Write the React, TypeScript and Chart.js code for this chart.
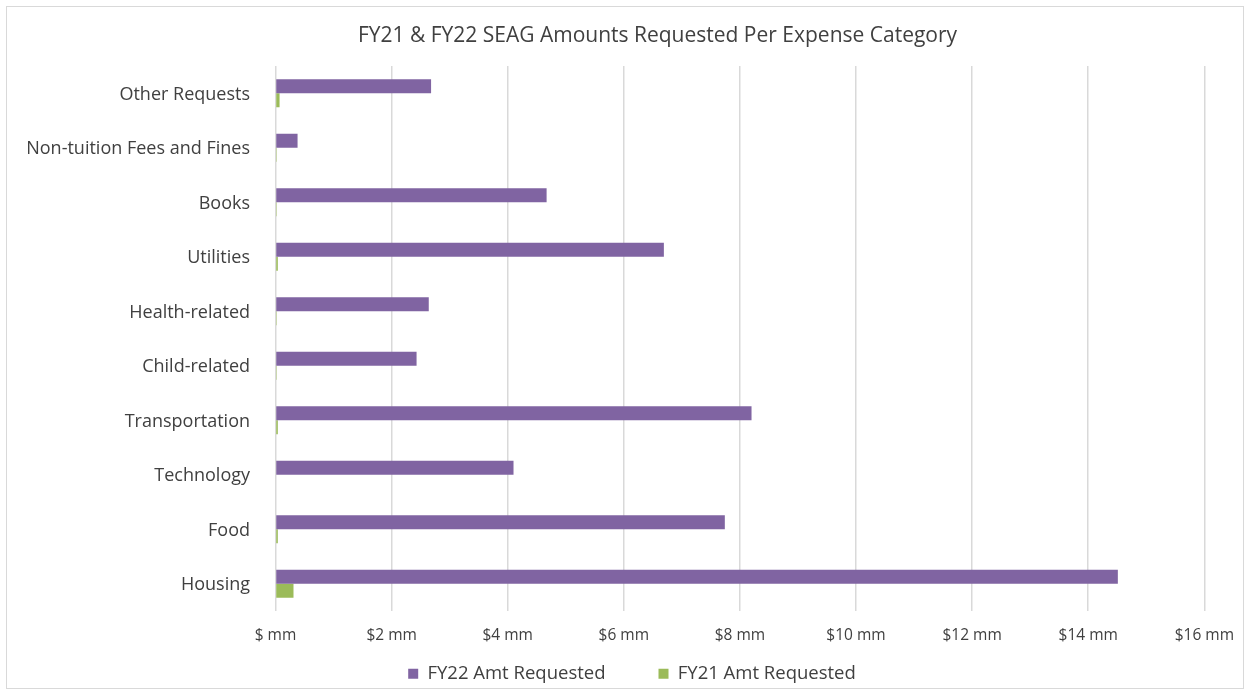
import React, { useEffect, useRef } from "react";
import { Chart, registerables } from "chart.js";

Chart.register(...registerables);

const chartTitle = "FY21 & FY22 SEAG Amounts Requested Per Expense Category";
const categories = [
  "Other Requests",
  "Non-tuition Fees and Fines",
  "Books",
  "Utilities",
  "Health-related",
  "Child-related",
  "Transportation",
  "Technology",
  "Food",
  "Housing",
];
const fy22Requested = [2.68, 0.38, 4.67, 6.69, 2.64, 2.43, 8.2, 4.1, 7.74, 14.51];
const fy21Requested = [0.07, 0.02, 0.02, 0.04, 0.02, 0.02, 0.04, 0, 0.04, 0.31];
const xTicks = [0, 2, 4, 6, 8, 10, 12, 14, 16];

const FONT = "'Open Sans', 'Noto Sans', sans-serif";
const TEXT = "#404040";

// Re-centres the title and legend boxes the way the reference places them.
const placeBoxesPlugin = {
  id: "placeBoxes",
  afterLayout(chart: any) {
    const t = chart.titleBlock;
    if (t) {
      const d = 657.5 - (t.left + t.right) / 2;
      t.left += d;
      t.right += d;
    }
    const lg = chart.legend;
    if (lg) {
      const d = 632 - (lg.left + lg.right) / 2;
      lg.left += d;
      lg.right += d;
      lg.top = 611.5;
      lg.bottom = chart.height;
      lg.height = lg.bottom - lg.top;
    }
  },
};

export default function App() {
  const ref = useRef<HTMLCanvasElement | null>(null);
  useEffect(() => {
    document.body.style.margin = "0";
    const chart = new Chart(ref.current!, {
      type: "bar",
      data: {
        labels: categories,
        datasets: [
          { label: "FY22 Amt Requested", data: fy22Requested, backgroundColor: "#8064A2" },
          { label: "FY21 Amt Requested", data: fy21Requested, backgroundColor: "#9BBB59" },
        ],
      },
      plugins: [placeBoxesPlugin],
      options: {
        indexAxis: "y",
        animation: false,
        responsive: false,
        maintainAspectRatio: false,
        layout: { padding: { top: 0, right: 43, bottom: 3, left: 0 } },
        datasets: { bar: { categoryPercentage: 0.514, barPercentage: 1 } },
        scales: {
          x: {
            min: 0,
            max: 16,
            afterBuildTicks: (s: any) => {
              s.ticks = xTicks.map((v) => ({ value: v }));
            },
            grid: { color: "#d9d9d9", lineWidth: 1.5, drawTicks: false },
            border: { display: false },
            ticks: {
              padding: 15,
              color: TEXT,
              font: { family: FONT, size: 15.5 },
              maxRotation: 0,
              autoSkip: false,
              callback: (v: any) => (v === 0 ? "$ mm" : `$${v} mm`),
            },
            afterFit: (s: any) => {
              s.height = 50;
            },
          },
          y: {
            grid: { display: false, drawTicks: false },
            border: { display: false },
            ticks: {
              padding: 25.5,
              labelOffset: 1.5,
              color: TEXT,
              autoSkip: false,
              font: { family: FONT, size: 18 },
            },
            afterFit: (s: any) => {
              s.width = 275.5;
            },
          },
        },
        plugins: {
          title: {
            display: true,
            text: chartTitle,
            color: TEXT,
            font: { family: FONT, size: 21, weight: "normal" },
            padding: { top: 23.4, bottom: 17.4 },
          },
          legend: {
            position: "bottom",
            maxHeight: 30,
            labels: {
              color: TEXT,
              font: { family: FONT, size: 18.5 },
              boxWidth: 10,
              boxHeight: 10,
              padding: 53,
            },
          },
          tooltip: { enabled: false },
        },
      },
    });
    return () => chart.destroy();
  }, []);
  return (
    <div style={{ position: "relative", width: 1249, height: 694, background: "#fff" }}>
      <div
        style={{
          position: "absolute",
          left: 6,
          top: 6,
          width: 1236,
          height: 681,
          border: "1px solid #d9d9d9",
          pointerEvents: "none",
        }}
      />
      <canvas ref={ref} width={1249} height={694} style={{ position: "absolute", left: 0, top: 0 }} />
    </div>
  );
}
